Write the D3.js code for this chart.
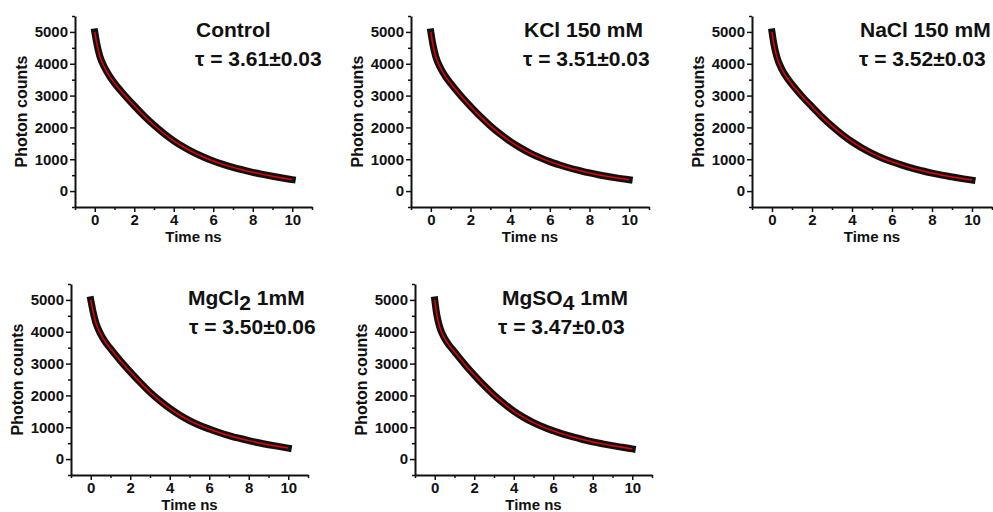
<!DOCTYPE html>
<html>
<head>
<meta charset="utf-8">
<script src="https://cdn.jsdelivr.net/npm/d3@7"></script>
<style>
    body { margin: 0; background: #fff; }
    svg { display: block; }
    text { font-family: "Liberation Sans", Arial, sans-serif; font-weight: bold; fill: #111; }
</style>
</head>
<body>
<div id="chart"></div>
<script>
// time axis (ns) shared by every panel
const times = [0, 0.1, 0.25, 0.5, 0.75, 1, 1.5, 2, 2.5, 3, 3.5, 4, 4.5, 5, 5.5, 6, 6.5, 7, 7.5, 8, 8.5, 9, 9.5, 10];

// photon counts
const controlCounts = [5000, 4650, 4250, 3880, 3610, 3390, 3020, 2680, 2360, 2070, 1810, 1580, 1385, 1215, 1070, 945, 840, 745, 665, 590, 525, 465, 410, 360];
const kclCounts = [5000, 4620, 4220, 3850, 3590, 3380, 3000, 2660, 2340, 2050, 1790, 1560, 1365, 1195, 1050, 925, 820, 725, 645, 570, 505, 450, 400, 355];
const naclCounts = [5000, 4600, 4200, 3820, 3560, 3350, 2980, 2650, 2330, 2040, 1780, 1550, 1355, 1185, 1040, 920, 815, 720, 640, 565, 500, 445, 392, 345];
const mgcl2Counts = [5000, 4680, 4300, 3930, 3670, 3470, 3090, 2740, 2410, 2100, 1830, 1590, 1385, 1210, 1065, 945, 835, 740, 655, 580, 512, 452, 398, 345];
const mgso4Counts = [5000, 4550, 4150, 3790, 3560, 3370, 2990, 2640, 2310, 2010, 1745, 1505, 1310, 1145, 1005, 890, 785, 695, 615, 540, 478, 422, 370, 320];

const seriesCounts = [controlCounts, kclCounts, naclCounts, mgcl2Counts, mgso4Counts];

// panel titles: [main text, subscript, rest]
const titleParts = [
    ["Control", "", ""],
    ["KCl 150 mM", "", ""],
    ["NaCl 150 mM", "", ""],
    ["MgCl", "2", " 1mM"],
    ["MgSO", "4", " 1mM"]
];
const tauLabels = ["τ = 3.61±0.03", "τ = 3.51±0.03", "τ = 3.52±0.03", "τ = 3.50±0.06", "τ = 3.47±0.03"];

const xTicks = [0, 2, 4, 6, 8, 10];
const xMinorTicks = [-1, 1, 3, 5, 7, 9, 11];
const yTicks = [0, 1000, 2000, 3000, 4000, 5000];
const yMinorTicks = [-500, 500, 1500, 2500, 3500, 4500, 5500];

const xDomain = [-1, 11];
const yDomain = [-500, 5500];

const width = 993;
const height = 512;

// plot box of each panel, plus title position
const layout = [
    { left: 75, right: 312, top: 16, bottom: 207, titleX: 196, tauX: 195 },
    { left: 411, right: 649, top: 16, bottom: 207, titleX: 524, tauX: 523 },
    { left: 752, right: 992, top: 16, bottom: 207, titleX: 860, tauX: 859 },
    { left: 71, right: 308, top: 284, bottom: 475, titleX: 188, tauX: 189 },
    { left: 415, right: 652, top: 284, bottom: 475, titleX: 502, tauX: 498 }
];

const svg = d3.select("#chart")
    .append("svg")
    .attr("width", width)
    .attr("height", height);

function renderPanel(i) {
    const box = layout[i];
    const counts = seriesCounts[i];
    const data = times.map((t, k) => ({ t: t, c: counts[k] }));

    const xScale = d3.scaleLinear().domain(xDomain).range([box.left, box.right]);
    const yScale = d3.scaleLinear().domain(yDomain).range([box.bottom, box.top]);

    const g = svg.append("g");

    // minor ticks first, then major axes on top
    g.append("g")
        .attr("transform", `translate(0, ${box.bottom})`)
        .call(d3.axisBottom(xScale).tickValues(xMinorTicks).tickSize(3).tickFormat(""))
        .call(a => a.select(".domain").remove())
        .selectAll("line").attr("stroke", "#111").attr("stroke-width", 1.5);

    g.append("g")
        .attr("transform", `translate(${box.left}, 0)`)
        .call(d3.axisLeft(yScale).tickValues(yMinorTicks).tickSize(3).tickFormat(""))
        .call(a => a.select(".domain").remove())
        .selectAll("line").attr("stroke", "#111").attr("stroke-width", 1.5);

    const xAxisGroup = g.append("g")
        .attr("transform", `translate(0, ${box.bottom})`)
        .call(d3.axisBottom(xScale).tickValues(xTicks).tickFormat(d3.format("d"))
            .tickSize(5).tickSizeOuter(0).tickPadding(2));

    const yAxisGroup = g.append("g")
        .attr("transform", `translate(${box.left}, 0)`)
        .call(d3.axisLeft(yScale).tickValues(yTicks).tickFormat(d3.format("d"))
            .tickSize(5).tickSizeOuter(0).tickPadding(2));

    [xAxisGroup, yAxisGroup].forEach(a => {
        a.select(".domain").attr("stroke", "#111").attr("stroke-width", 2);
        a.selectAll(".tick line").attr("stroke", "#111").attr("stroke-width", 1.5);
        a.selectAll("text")
            .attr("font-size", "15px")
            .attr("font-family", "Liberation Sans, Arial, sans-serif")
            .attr("font-weight", "bold")
            .attr("fill", "#111");
    });

    // axis titles
    g.append("text")
        .attr("x", (xScale(0) + xScale(10)) / 2)
        .attr("y", box.bottom + 35)
        .attr("text-anchor", "middle")
        .attr("font-size", "15px")
        .text("Time ns");

    g.append("text")
        .attr("transform", `translate(${box.left - 48}, ${(box.top + box.bottom) / 2}) rotate(-90)`)
        .attr("text-anchor", "middle")
        .attr("font-size", "16px")
        .text("Photon counts");

    // data band and fit line
    const line = d3.line()
        .x(d => xScale(d.t))
        .y(d => yScale(d.c))
        .curve(d3.curveMonotoneX);

    g.append("path")
        .datum(data)
        .attr("d", line)
        .attr("fill", "none")
        .attr("stroke", "#111")
        .attr("stroke-width", 7)
        .attr("stroke-linecap", "square")
        .attr("stroke-linejoin", "round");

    g.append("path")
        .datum(data)
        .attr("d", line)
        .attr("fill", "none")
        .attr("stroke", "#ee0000")
        .attr("stroke-width", 1.5);

    // panel title
    const [main, sub, rest] = titleParts[i];
    const title = g.append("text")
        .attr("x", box.titleX)
        .attr("y", box.top + 21)
        .attr("font-size", "21px");
    title.append("tspan").text(main);
    if (sub) {
        title.append("tspan").attr("dy", 5).text(sub);
        title.append("tspan").attr("dy", -5).text(rest);
    }

    g.append("text")
        .attr("x", box.tauX)
        .attr("y", box.top + 50)
        .attr("font-size", "21px")
        .text(tauLabels[i]);
}

for (let i = 0; i < layout.length; i++) {
    renderPanel(i);
}
</script>
</body>
</html>
